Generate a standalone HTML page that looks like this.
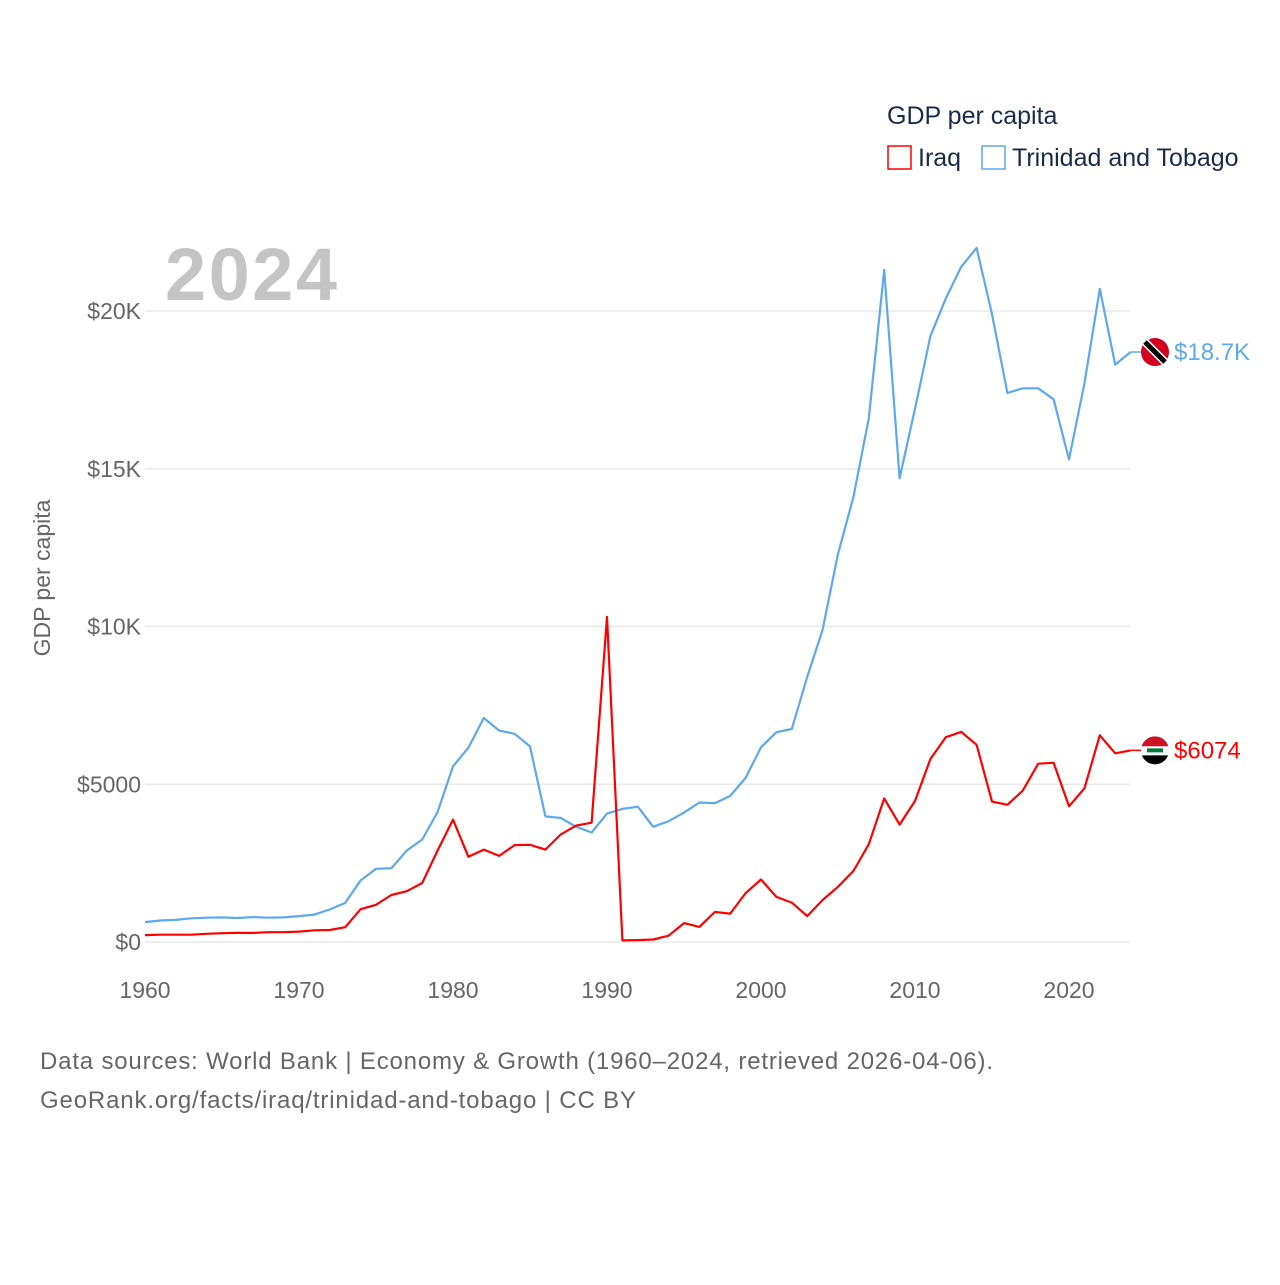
<!DOCTYPE html>
<html><head><meta charset="utf-8"><style>
body{margin:0;background:#fff;font-family:"Liberation Sans",sans-serif}
svg text{font-family:"Liberation Sans",sans-serif}
</style></head><body>
<svg width="1280" height="1280" viewBox="0 0 1280 1280">
<g id="grid"></g><g id="series"></g>
<text x="165" y="300" font-size="74" font-weight="bold" fill="#c4c4c4" textLength="172">2024</text>
<text transform="translate(50,578) rotate(-90)" text-anchor="middle" font-size="23" fill="#666">GDP per capita</text>
<text x="887" y="124" font-size="25" fill="#1a2b4a">GDP per capita</text>
<rect x="888" y="146" width="23" height="23" fill="none" stroke="#ff0000" stroke-width="1.5"/>
<text x="918" y="166" font-size="25" fill="#1a2b4a">Iraq</text>
<rect x="982" y="146" width="23" height="23" fill="none" stroke="#5ea8ec" stroke-width="1.5"/>
<text x="1012" y="166" font-size="25" fill="#1a2b4a">Trinidad and Tobago</text>
<text x="40" y="1069" font-size="24" fill="#666" textLength="953">Data sources: World Bank | Economy &amp; Growth (1960–2024, retrieved 2026-04-06).</text>
<text x="40" y="1108" font-size="24" fill="#666" textLength="596">GeoRank.org/facts/iraq/trinidad-and-tobago | CC BY</text>
</svg>
<script>
const years=[];for(let y=1960;y<=2024;y++)years.push(y);
const iraq=[0.22,0.23,0.23,0.23,0.26,0.28,0.29,0.29,0.31,0.31,0.33,0.37,0.38,0.47,1.04,1.18,1.49,1.61,1.87,2.9,3.88,2.7,2.93,2.73,3.07,3.08,2.93,3.41,3.69,3.78,10.3,0.05,0.06,0.08,0.2,0.6,0.48,0.95,0.9,1.55,1.98,1.43,1.25,0.82,1.33,1.75,2.25,3.1,4.55,3.72,4.47,5.8,6.49,6.66,6.25,4.45,4.35,4.8,5.65,5.68,4.3,4.87,6.55,5.98,6.074];
const trinidad=[0.63,0.68,0.7,0.75,0.77,0.78,0.76,0.79,0.77,0.78,0.82,0.87,1.03,1.24,1.95,2.32,2.34,2.9,3.25,4.12,5.57,6.16,7.1,6.7,6.6,6.2,3.98,3.93,3.65,3.47,4.07,4.22,4.29,3.65,3.83,4.1,4.42,4.4,4.63,5.2,6.17,6.65,6.75,8.4,9.9,12.3,14.1,16.6,21.3,14.7,16.9,19.2,20.4,21.4,22.0,19.9,17.4,17.55,17.55,17.2,15.3,17.7,20.7,18.3,18.7];
const yTicks=[0,5,10,15,20];
const yTickLabels=["$0","$5000","$10K","$15K","$20K"];
const xTicks=[1960,1970,1980,1990,2000,2010,2020];
const NS="http://www.w3.org/2000/svg";
const X=y=>145+(y-1960)*15.4;
const Y=v=>942-v*31.55;
const grid=document.getElementById('grid'),ser=document.getElementById('series');
function mk(tag,attrs,parent){const e=document.createElementNS(NS,tag);for(const k in attrs)e.setAttribute(k,attrs[k]);parent.appendChild(e);return e;}
yTicks.forEach((t,i)=>{
 const l=mk('line',{x1:145,x2:1130,y1:Y(t),y2:Y(t),stroke:'#e8e8e8','stroke-width':1.5},grid);
 
 
 const tx=mk('text',{x:141,y:Y(t)+8,'text-anchor':'end','font-size':23,fill:'#666'},grid);
 tx.textContent=yTickLabels[i];
 
 
});
xTicks.forEach(t=>{
 const tx=mk('text',{x:X(t),y:998,'text-anchor':'middle','font-size':23,fill:'#666'},grid);
 tx.textContent=t;
 
 
});
function line(vals,color,name){
 const d=vals.map((v,i)=>(i?'L':'M')+X(years[i]).toFixed(1)+','+Y(v).toFixed(1)).join('');
 const p=mk('path',{d:d,fill:'none',stroke:color,'stroke-width':2.2,'stroke-linejoin':'round'},ser);
 
 
 const last=vals[vals.length-1],lx=X(years[years.length-1]),ly=Y(last);
 mk('line',{x1:lx,x2:1142,y1:ly,y2:ly,stroke:color,'stroke-width':1.5},ser);
 return ly;
}
const ly1=line(trinidad,'#5ea8ec','trinidad-line');
const ly2=line(iraq,'#ff0000','iraq-line');
const f1=mk('g',{},ser);


mk('circle',{cx:1155,cy:ly1,r:14,fill:'#d5001f'},f1);
mk('line',{x1:1145,y1:ly1-10,x2:1165,y2:ly1+10,stroke:'#fff','stroke-width':8},f1);
mk('line',{x1:1145,y1:ly1-10,x2:1165,y2:ly1+10,stroke:'#000','stroke-width':5},f1);
const t1=mk('text',{x:1174,y:ly1+8,'font-size':24,fill:'#5ea8ec'},ser);
t1.textContent='$18.7K';


const f2=mk('g',{},ser);


mk('clipPath',{id:'c2'},f2);
mk('circle',{cx:1155,cy:ly2,r:14},f2.querySelector('clipPath'));
const gg=mk('g',{'clip-path':'url(#c2)'},f2);
mk('rect',{x:1140,y:ly2-14,width:30,height:10,fill:'#ce1126'},gg);
mk('rect',{x:1140,y:ly2-4,width:30,height:9,fill:'#fff'},gg);
mk('rect',{x:1140,y:ly2+5,width:30,height:10,fill:'#000'},gg);
mk('rect',{x:1147,y:ly2-2,width:16,height:4,fill:'#007a3d'},gg);
const t2=mk('text',{x:1174,y:ly2+8,'font-size':24,fill:'#ff0000'},ser);
t2.textContent='$6074';


</script>
</body></html>
